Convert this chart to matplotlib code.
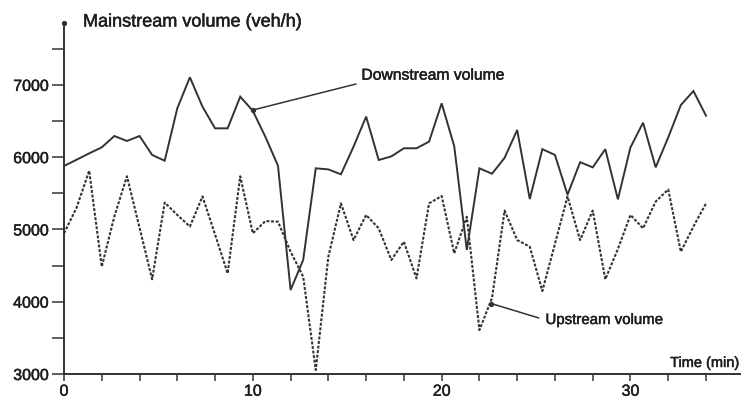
import numpy as np
import matplotlib.pyplot as plt
import matplotlib.patheffects as pe
from matplotlib.ticker import MultipleLocator

# Mainstream volumes (veh/h), sampled every 40 s
interval_min = 2 / 3
downstream = [5877, 5964, 6052, 6135, 6292, 6223, 6292, 6030, 5950, 6675,
              7104, 6698, 6398, 6398, 6836, 6640, 6280, 5880, 4162, 4577,
              5845, 5830, 5762, 6145, 6560, 5960, 6010, 6122, 6122, 6214,
              6744, 6150, 4715, 5845, 5770, 5990, 6375, 5420, 6110, 6030,
              5480, 5930, 5858, 6110, 5416, 6135, 6476, 5858, 6273, 6720,
              6914, 6573]
upstream = [4946, 5300, 5812, 4484, 5180, 5735, 5025, 4310, 5371, 5200,
            5040, 5456, 4930, 4392, 5735, 4946, 5116, 5107, 4692, 4346,
            3055, 4623, 5360, 4853, 5200, 5015, 4577, 4830, 4323, 5360,
            5462, 4670, 5175, 3608, 4050, 5260, 4853, 4761, 4148, 4800,
            5456, 4853, 5260, 4310, 4729, 5200, 5015, 5385, 5553, 4692,
            5040, 5360]
time = np.arange(len(downstream)) * interval_min

ink = '#333333'
text_ink = '#1e1e1e'
heavy = [pe.withStroke(linewidth=0.35, foreground=text_ink)]
plt.rcParams['font.family'] = ['Liberation Sans', 'DejaVu Sans']

fig = plt.figure(figsize=(7.42, 3.98), dpi=100)
ax = fig.add_axes([64 / 742, 24 / 398, 676 / 742, 351 / 398])

ax.plot(time, downstream, color=ink, lw=1.4, solid_joinstyle='miter')
ax.plot(time, upstream, color=ink, lw=1.5, linestyle=(0, (1.4, 0.8)))

ax.set_xlim(0, 35.8)
ax.set_ylim(3000, 7855)
for side in ('top', 'right'):
    ax.spines[side].set_visible(False)
for side in ('left', 'bottom'):
    ax.spines[side].set_color(ink)
    ax.spines[side].set_linewidth(1.4)

ax.xaxis.set_major_locator(MultipleLocator(10))
ax.xaxis.set_minor_locator(MultipleLocator(2))
ax.yaxis.set_major_locator(MultipleLocator(1000))
ax.yaxis.set_minor_locator(MultipleLocator(500))
ax.set_yticks([3000, 4000, 5000, 6000, 7000])
ax.tick_params(axis='y', which='both', direction='out', length=9, width=1.1,
               color=ink, labelsize=11.5, pad=2, labelcolor=text_ink)
ax.tick_params(axis='x', which='both', direction='out', length=5, width=1.1,
               color=ink, labelsize=11.5, pad=2, labelcolor=text_ink)
for lab in ax.get_xticklabels() + ax.get_yticklabels():
    lab.set_path_effects(heavy)

# small dot at the top of the vertical axis
ax.plot([0], [7855], marker='o', ms=2.8, color=ink, clip_on=False)

fig.text(83 / 742, 1 - 22 / 398, 'Mainstream volume (veh/h)', fontsize=13,
         ha='left', va='center', color=text_ink, path_effects=heavy)
fig.text(740 / 742, 1 - 363 / 398, 'Time (min)', fontsize=10.5,
         ha='right', va='center', color=text_ink, path_effects=heavy)

ax.annotate('Downstream volume', xy=(10.0, 6651), xytext=(15.75, 7030),
            fontsize=11.3, color=text_ink, ha='left', va='bottom',
            path_effects=heavy,
            arrowprops=dict(arrowstyle='-', color=ink, lw=1.1, relpos=(0, 0),
                            shrinkA=2, shrinkB=0))
ax.plot([10.0], [6651], marker='o', ms=2.8, color=ink)

ax.annotate('Upstream volume', xy=(22.62, 3975), xytext=(25.5, 3747),
            fontsize=10.8, color=text_ink, ha='left', va='center',
            path_effects=heavy,
            arrowprops=dict(arrowstyle='-', color=ink, lw=1.1, relpos=(0, 0.5),
                            shrinkA=3, shrinkB=0))
ax.plot([22.62], [3975], marker='o', ms=2.8, color=ink)

fig.savefig('out.png', dpi=100)
